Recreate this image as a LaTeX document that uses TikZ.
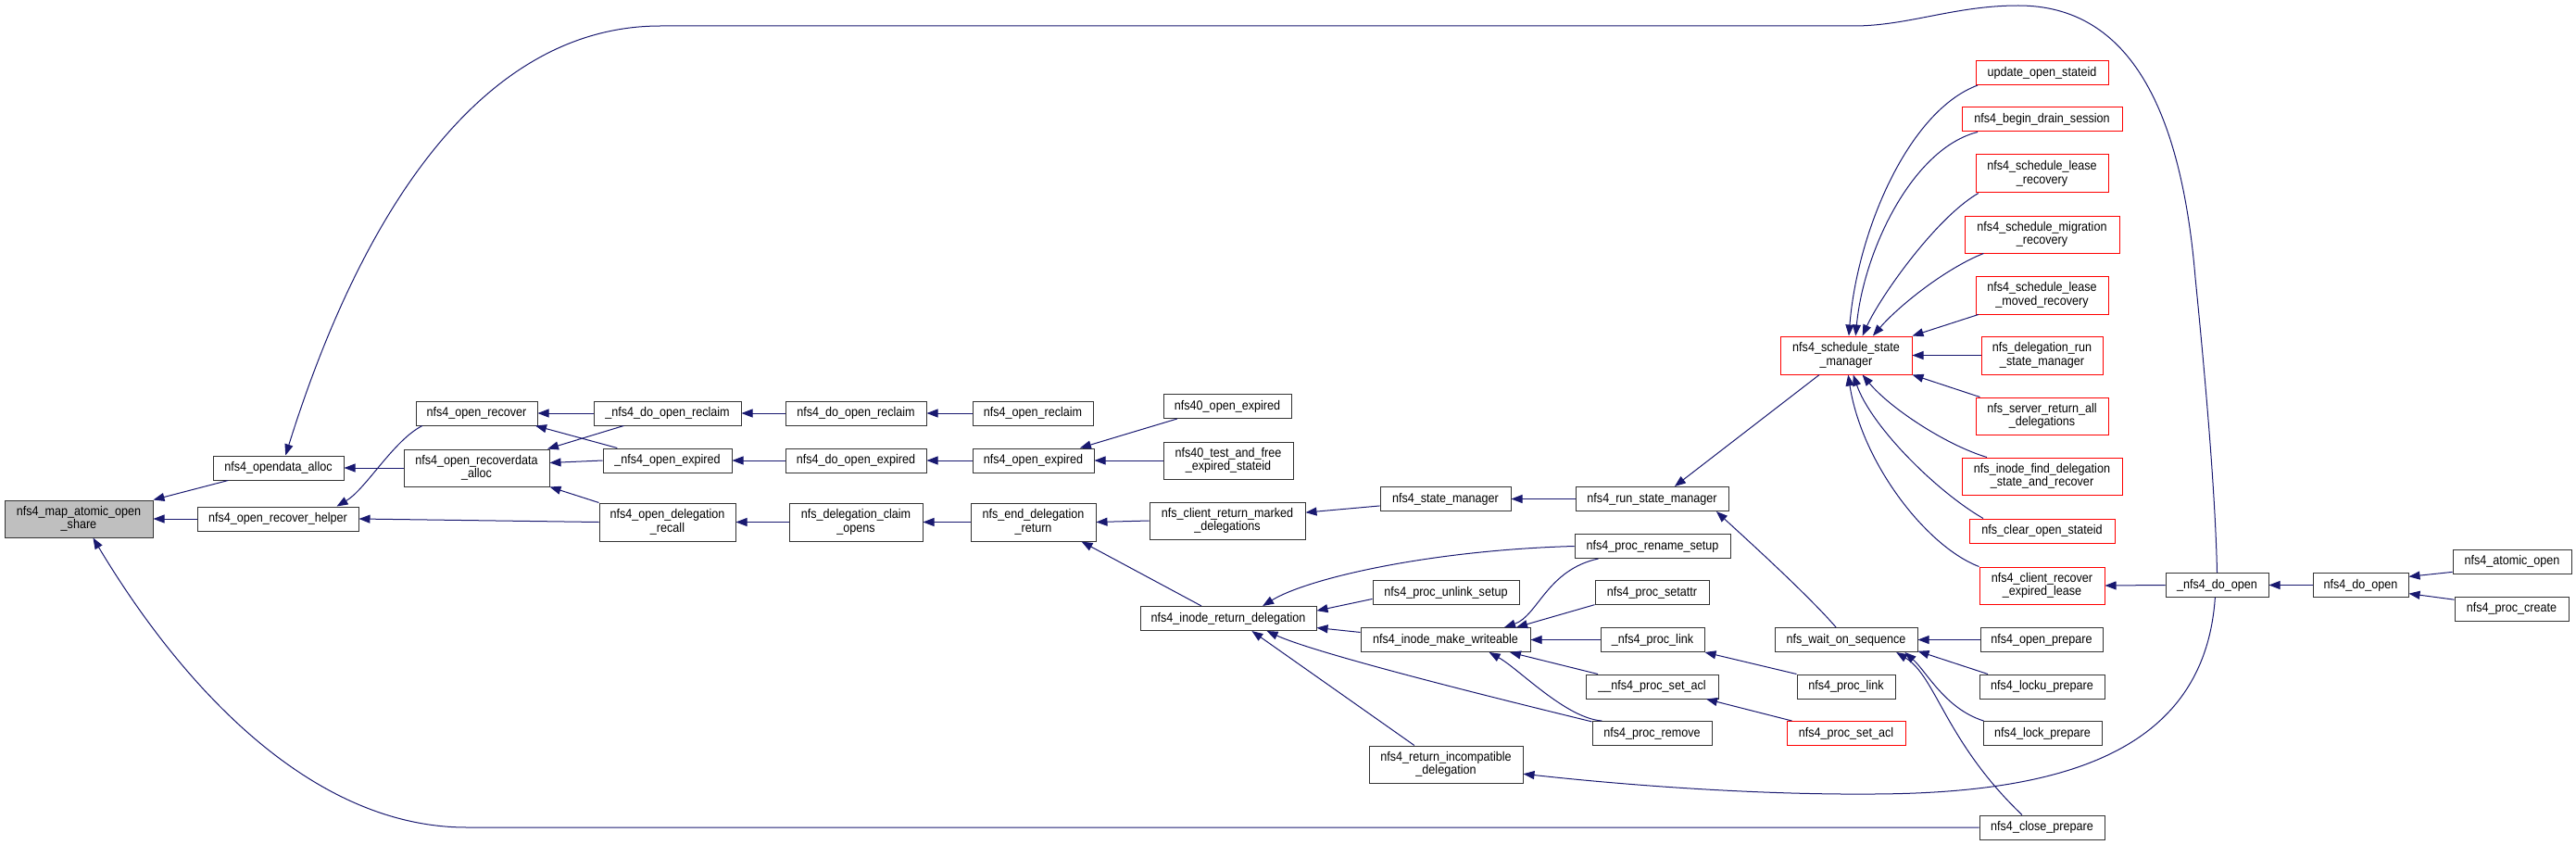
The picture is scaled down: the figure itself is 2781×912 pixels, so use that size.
\documentclass[tikz,border=0pt]{standalone}
\usepackage{fontspec}
\setmainfont{Liberation Sans}[FakeStretch=0.9]
\usepackage{tikz}
\usetikzlibrary{arrows.meta}
\definecolor{edgeblue}{HTML}{191970}
\definecolor{rootgray}{HTML}{BFBFBF}
\definecolor{boxred}{HTML}{FF0000}

\begin{document}
\begin{tikzpicture}[x=1pt, y=-1pt, >={Triangle[length=12pt, width=9pt]},
  fn/.style={draw=black!80, line width=1pt, minimum height=26pt, inner xsep=2pt,
    inner ysep=1pt, align=center, font=\fontsize{14}{14.5}\selectfont},
  fnred/.style={fn, draw=boxred},
  fnroot/.style={fn, fill=rootgray},
  call/.style={<-, draw=edgeblue, line width=1pt}]
  \useasboundingbox (0,0) rectangle (2781,912);

  % Root
  \node[fnroot, minimum width=160pt, minimum height=40pt] (mapopen) at (85,560) {nfs4\_map\_atomic\_open\\\_share};

  % Callers, level 1
  \node[fn, minimum width=141pt] (opendata) at (300.5,505) {nfs4\_opendata\_alloc};
  \node[fn, minimum width=174pt] (helper) at (300,560) {nfs4\_open\_recover\_helper};

  % Level 2
  \node[fn, minimum width=131pt] (recover) at (514.5,446) {nfs4\_open\_recover};
  \node[fn, minimum width=157pt, minimum height=40pt] (recdata) at (514.5,505) {nfs4\_open\_recoverdata\\\_alloc};

  % Level 3
  \node[fn, minimum width=159pt] (doreclaimA) at (720.5,446) {\_nfs4\_do\_open\_reclaim};
  \node[fn, minimum width=139pt] (expiredA) at (720.5,497) {\_nfs4\_open\_expired};
  \node[fn, minimum width=147pt, minimum height=41pt] (recall) at (720.5,563.5) {nfs4\_open\_delegation\\\_recall};

  % Level 4
  \node[fn, minimum width=152pt] (doreclaim) at (924,446) {nfs4\_do\_open\_reclaim};
  \node[fn, minimum width=152pt] (doexpired) at (924,497) {nfs4\_do\_open\_expired};
  \node[fn, minimum width=144pt, minimum height=41pt] (claim) at (924,563.5) {nfs\_delegation\_claim\\\_opens};

  % Level 5
  \node[fn, minimum width=130pt] (openreclaim) at (1115,446) {nfs4\_open\_reclaim};
  \node[fn, minimum width=131pt] (openexpired) at (1115.5,497) {nfs4\_open\_expired};
  \node[fn, minimum width=135pt, minimum height=41pt] (enddeleg) at (1115.5,563.5) {nfs\_end\_delegation\\\_return};

  % Level 6
  \node[fn, minimum width=138pt] (expired40) at (1325,438.5) {nfs40\_open\_expired};
  \node[fn, minimum width=140pt, minimum height=40pt] (testfree) at (1326,497) {nfs40\_test\_and\_free\\\_expired\_stateid};
  \node[fn, minimum width=168pt, minimum height=40pt] (marked) at (1325,562) {nfs\_client\_return\_marked\\\_delegations};
  \node[fn, minimum width=190pt] (inoderet) at (1326,667.5) {nfs4\_inode\_return\_delegation};

  % Level 7
  \node[fn, minimum width=141pt] (statemgr) at (1560.5,538.5) {nfs4\_state\_manager};
  \node[fn, minimum width=158pt] (unlink) at (1561,639.5) {nfs4\_proc\_unlink\_setup};
  \node[fn, minimum width=183pt] (writeable) at (1560.5,690.5) {nfs4\_inode\_make\_writeable};
  \node[fn, minimum width=166pt, minimum height=40pt] (incompat) at (1561,825) {nfs4\_return\_incompatible\\\_delegation};

  % Level 8
  \node[fn, minimum width=165pt] (runmgr) at (1783.5,538.5) {nfs4\_run\_state\_manager};
  \node[fn, minimum width=168pt] (rename) at (1784,589.5) {nfs4\_proc\_rename\_setup};
  \node[fn, minimum width=123pt] (setattr) at (1783.5,639.5) {nfs4\_proc\_setattr};
  \node[fn, minimum width=112pt] (linkA) at (1784,690.5) {\_nfs4\_proc\_link};
  \node[fn, minimum width=143pt] (setaclA) at (1783.5,741) {\_\_nfs4\_proc\_set\_acl};
  \node[fn, minimum width=129pt] (remove) at (1783.5,791.5) {nfs4\_proc\_remove};

  % Level 9
  \node[fnred, minimum width=142pt, minimum height=41pt] (sched) at (1993,383.5) {nfs4\_schedule\_state\\\_manager};
  \node[fn, minimum width=154pt] (waitseq) at (1993,690.5) {nfs\_wait\_on\_sequence};
  \node[fn, minimum width=106pt] (link) at (1993,741) {nfs4\_proc\_link};
  \node[fnred, minimum width=128pt] (setacl) at (1993,791.5) {nfs4\_proc\_set\_acl};

  % Level 10
  \node[fnred, minimum width=143pt] (update) at (2204.5,78.5) {update\_open\_stateid};
  \node[fnred, minimum width=173pt] (drain) at (2204.5,129) {nfs4\_begin\_drain\_session};
  \node[fnred, minimum width=143pt, minimum height=41pt] (leaserec) at (2204.5,187.5) {nfs4\_schedule\_lease\\\_recovery};
  \node[fnred, minimum width=167pt, minimum height=40pt] (migration) at (2204.5,253) {nfs4\_schedule\_migration\\\_recovery};
  \node[fnred, minimum width=143pt, minimum height=41pt] (leasemoved) at (2204.5,318.5) {nfs4\_schedule\_lease\\\_moved\_recovery};
  \node[fnred, minimum width=131pt, minimum height=41pt] (delegrun) at (2204.5,383.5) {nfs\_delegation\_run\\\_state\_manager};
  \node[fnred, minimum width=143pt, minimum height=40pt] (returnall) at (2204.5,449) {nfs\_server\_return\_all\\\_delegations};
  \node[fnred, minimum width=173pt, minimum height=40pt] (finddeleg) at (2204.5,514) {nfs\_inode\_find\_delegation\\\_state\_and\_recover};
  \node[fnred, minimum width=157pt] (clearid) at (2204.5,573) {nfs\_clear\_open\_stateid};
  \node[fnred, minimum width=135pt, minimum height=40pt] (recexp) at (2204.5,632) {nfs4\_client\_recover\\\_expired\_lease};
  \node[fn, minimum width=132pt] (openprep) at (2204,690.5) {nfs4\_open\_prepare};
  \node[fn, minimum width=135pt] (lockuprep) at (2204.5,741) {nfs4\_locku\_prepare};
  \node[fn, minimum width=128pt] (lockprep) at (2205,791.5) {nfs4\_lock\_prepare};
  \node[fn, minimum width=135pt] (closeprep) at (2204.5,893) {nfs4\_close\_prepare};

  % Level 11 to 13
  \node[fn, minimum width=111pt] (doopenA) at (2393.5,631.5) {\_nfs4\_do\_open};
  \node[fn, minimum width=103pt] (doopen) at (2548.5,631.5) {nfs4\_do\_open};
  \node[fn, minimum width=128pt] (atomic) at (2712,606) {nfs4\_atomic\_open};
  \node[fn, minimum width=123pt] (create) at (2711.5,657) {nfs4\_proc\_create};

  % Edges into the root
  \draw[call] (mapopen.north east) -- (opendata.-166);
  \draw[call] (mapopen.east) -- (helper.west);
  \draw[call] (mapopen.-53) .. controls (190,730) and (330,893) .. (504,893) -- (closeprep.west);

  % Level 1 and 2
  \draw[call] (opendata.east) -- (recdata.west);
  \draw[call] (opendata.60) .. controls (390,230) and (520,28) .. (713,28) -- (2001,28)
    .. controls (2060,28) and (2110,6) .. (2179,6)
    .. controls (2300,6) and (2355,120) .. (2370,300)
    .. controls (2385,450) and (2392,550) .. (doopenA.north);
  \draw[call] (helper.12) .. controls (395,528) and (425,475) .. (recover.-167);
  \draw[call] (helper.east) -- (recall.west);
  \draw[call] (recover.east) -- (doreclaimA.west);
  \draw[call] (recover.-12) -- (expiredA.166);
  \draw[call] (recdata.15) -- (doreclaimA.-164);
  \draw[call] (recdata.4) -- (expiredA.west);
  \draw[call] (recdata.south east) -- (recall.north west);

  % Level 3 to 6
  \draw[call] (doreclaimA.east) -- (doreclaim.west);
  \draw[call] (doreclaim.east) -- (openreclaim.west);
  \draw[call] (expiredA.east) -- (doexpired.west);
  \draw[call] (doexpired.east) -- (openexpired.west);
  \draw[call] (openexpired.15) -- (expired40.-166);
  \draw[call] (openexpired.east) -- (testfree.west);
  \draw[call] (recall.east) -- (claim.west);
  \draw[call] (claim.east) -- (enddeleg.west);
  \draw[call] (enddeleg.east) -- (marked.west);
  \draw[call] (enddeleg.-22) -- (inoderet.155);
  \draw[call] (marked.6) -- (statemgr.186);
  \draw[call] (statemgr.east) -- (runmgr.west);

  % Return delegation
  \draw[call] (inoderet.20) .. controls (1410,625) and (1540,594) .. (rename.west);
  \draw[call] (inoderet.5) -- (unlink.185);
  \draw[call] (inoderet.-6) -- (writeable.175);
  \draw[call] (inoderet.-18) .. controls (1420,705) and (1600,750) .. (remove.169);
  \draw[call] (inoderet.-28) -- (incompat.149);
  \draw[call] (incompat.-7) .. controls (1760,848) and (1900,858) .. (2023,857)
    .. controls (2230,856) and (2380,810) .. (doopenA.-99);

  % Make writeable
  \draw[call] (writeable.12) .. controls (1660,665) and (1670,615) .. (rename.-167);
  \draw[call] (writeable.10) -- (setattr.-168);
  \draw[call] (writeable.east) -- (linkA.west);
  \draw[call] (writeable.-11) -- (setaclA.167);
  \draw[call] (writeable.-16) .. controls (1640,722) and (1690,775) .. (remove.166);
  \draw[call] (linkA.south east) -- (link.north west);
  \draw[call] (setaclA.-13) -- (setacl.167);

  % State manager
  \draw[call] (runmgr.29) -- (sched.-144);
  \draw[call] (runmgr.-11) .. controls (1880,577) and (1950,640) .. (waitseq.129);
  \draw[call] (sched.82) .. controls (2005,250) and (2060,120) .. (update.-169);
  \draw[call] (sched.64) .. controls (2012,270) and (2065,160) .. (drain.-169);
  \draw[call] (sched.50) .. controls (2030,320) and (2090,235) .. (leaserec.-163);
  \draw[call] (sched.36) .. controls (2050,330) and (2100,290) .. (migration.-162);
  \draw[call] (sched.north east) -- (leasemoved.-163);
  \draw[call] (sched.east) -- (delegrun.west);
  \draw[call] (sched.south east) -- (returnall.163);
  \draw[call] (sched.-50) .. controls (2040,440) and (2100,480) .. (finddeleg.161);
  \draw[call] (sched.-70) .. controls (2020,460) and (2090,530) .. (clearid.168);
  \draw[call] (sched.-84) .. controls (2010,500) and (2080,590) .. (recexp.north west);
  \draw[call] (recexp.east) -- (doopenA.west);

  % Wait on sequence
  \draw[call] (waitseq.east) -- (openprep.west);
  \draw[call] (waitseq.-9) -- (lockuprep.167);
  \draw[call] (waitseq.-12) .. controls (2080,725) and (2100,765) .. (lockprep.168);
  \draw[call] (waitseq.-14) .. controls (2090,730) and (2100,800) .. (closeprep.148);

  % Open
  \draw[call] (doopenA.east) -- (doopen.west);
  \draw[call] (doopen.10) -- (atomic.190);
  \draw[call] (doopen.-10) -- (create.171);
\end{tikzpicture}
\end{document}
